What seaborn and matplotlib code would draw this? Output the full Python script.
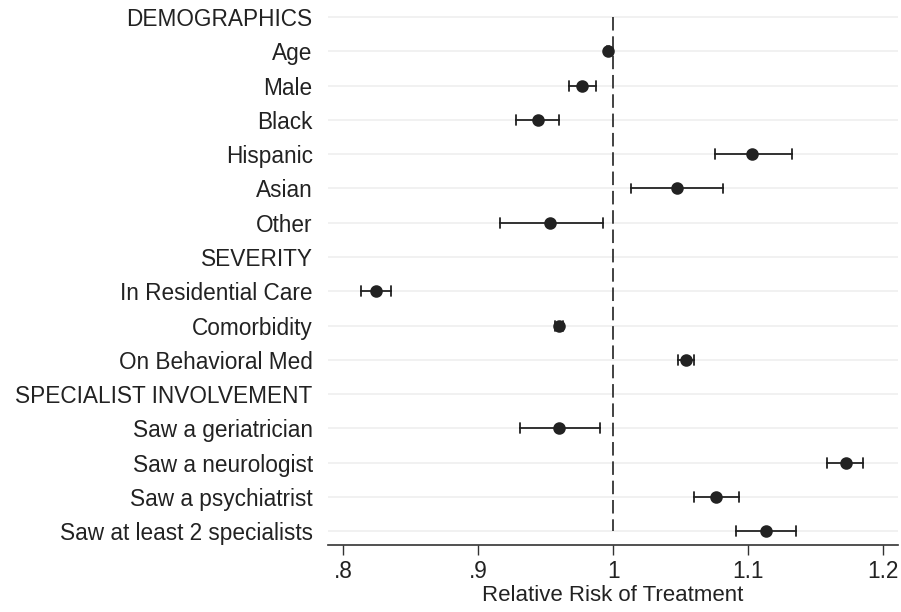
import numpy as np
import pandas as pd
import seaborn as sns
import matplotlib.pyplot as plt

labels = ["DEMOGRAPHICS", "Age", "Male", "Black", "Hispanic", "Asian", "Other",
          "SEVERITY", "In Residential Care", "Comorbidity", "On Behavioral Med",
          "SPECIALIST INVOLVEMENT", "Saw a geriatrician", "Saw a neurologist",
          "Saw a psychiatrist", "Saw at least 2 specialists"]

# point estimate and 95% CI (nan = section header row)
rr = [np.nan, 0.996, 0.977, 0.944, 1.103, 1.047, 0.953,
      np.nan, 0.824, 0.960, 1.054,
      np.nan, 0.960, 1.172, 1.076, 1.113]
lo = [np.nan, 0.995, 0.967, 0.928, 1.075, 1.013, 0.916,
      np.nan, 0.813, 0.957, 1.048,
      np.nan, 0.931, 1.158, 1.060, 1.091]
hi = [np.nan, 0.997, 0.987, 0.960, 1.132, 1.081, 0.992,
      np.nan, 0.835, 0.963, 1.060,
      np.nan, 0.990, 1.185, 1.093, 1.135]

xticks = [0.8, 0.9, 1.0, 1.1, 1.2]
xticklabels = [".8", ".9", "1", "1.1", "1.2"]

rows = []
for lab, e, l, h in zip(labels, rr, lo, hi):
    if np.isnan(e):
        continue
    for v in (l, e, h):
        rows.append({"label": lab, "value": v})
df = pd.DataFrame(rows)

sns.set_style("white")
plt.rcParams['font.family'] = ['Liberation Sans', 'DejaVu Sans']
ink = "#222222"

fig = plt.figure(figsize=(9.01, 6.12), dpi=100)
ax = fig.add_axes([0.364, 0.1095, 0.633, 0.885])

for i in range(len(labels)):
    ax.axhline(i, color="#efefef", lw=1.2, zorder=0)
ax.vlines(1.0, 0, len(labels) - 1, color="#333333", lw=1.3,
          linestyle=(0, (7.5, 3.2)), zorder=1)

sns.pointplot(data=df, x="value", y="label", order=labels, orient="h",
              estimator="median", errorbar=lambda v: (v.min(), v.max()),
              linestyle="none", color=ink, markersize=7, capsize=0.29,
              err_kws={"linewidth": 1.3}, ax=ax, zorder=3)

ax.set_xlim(0.7886, 1.2111)
ax.set_ylim(len(labels) - 0.6, -0.4)
ax.set_xticks(xticks)
ax.set_xticklabels(xticklabels)
ax.set_xlabel("Relative Risk of Treatment", fontsize=16, color=ink, labelpad=1)
ax.set_ylabel("")
ax.tick_params(axis="y", length=0, pad=11, labelsize=16.3, labelcolor=ink)
ax.tick_params(axis="x", length=7, width=1, color="#333333", pad=4,
               labelsize=16.3, labelcolor=ink, bottom=True)
for s in ["left", "right", "top"]:
    ax.spines[s].set_visible(False)
ax.spines["bottom"].set_color("#333333")
ax.spines["bottom"].set_linewidth(1.2)

fig.savefig("out.png", dpi=100)
